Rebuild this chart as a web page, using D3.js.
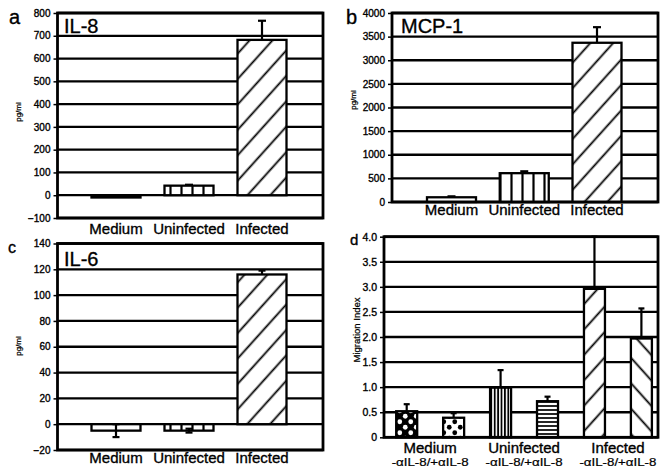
<!DOCTYPE html>
<html><head><meta charset="utf-8">
<script src="https://cdn.jsdelivr.net/npm/d3@7"></script>
<style>
body{margin:0;background:#fff}
svg{display:block}
text{font-family:"Liberation Sans",Arial,Helvetica,sans-serif;fill:#000;stroke:#000;stroke-width:0.35px}
</style>
</head><body>
<svg id="chart" width="670" height="471"></svg>
<script>
// ---------------- data ----------------
const categories = ["Medium", "Uninfected", "Infected"];

const il8Values = [-10, 42, 682];
const il8Errors = [0, 4, 84];
const il8Ticks = [-100, 0, 100, 200, 300, 400, 500, 600, 700, 800];

const mcp1Values = [100, 610, 3370];
const mcp1Errors = [20, 40, 330];
const mcp1Ticks = [0, 500, 1000, 1500, 2000, 2500, 3000, 3500, 4000];

const il6Values = [-5, -5, 116];
const il6Errors = [5, 1.5, 3];
const il6Ticks = [-20, 0, 20, 40, 60, 80, 100, 120, 140];

const migrationGroups = ["Medium", "Uninfected", "Infected"];
const migrationSubLabel = "-\u03b1IL-8/+\u03b1IL-8";
const migrationMinus = [0.52, 0.99, 2.96];
const migrationMinusErr = [0.14, 0.35, 1.04];
const migrationPlus = [0.39, 0.72, 1.97];
const migrationPlusErr = [0.09, 0.09, 0.6];
const migrationTicks = [0, 0.5, 1.0, 1.5, 2.0, 2.5, 3.0, 3.5, 4.0];

// ---------------- setup ----------------
const svg = d3.select("#chart");
const defs = svg.append("defs");

function linePattern(id, spacing, angle, sw) {
  const p = defs.append("pattern").attr("id", id)
    .attr("patternUnits", "userSpaceOnUse")
    .attr("width", spacing).attr("height", 10)
    .attr("patternTransform", `rotate(${angle})`);
  p.append("rect").attr("width", spacing).attr("height", 10).attr("fill", "#fff");
  p.append("line").attr("x1", spacing / 2).attr("x2", spacing / 2)
    .attr("y1", -1).attr("y2", 11).attr("stroke", "#000").attr("stroke-width", sw);
}
linePattern("vlines", 11, 0, 2.2);
linePattern("diagR", 17, 42, 1.8);
linePattern("diagL", 17, -42, 1.8);
linePattern("vdense", 3.4, 0, 1.8);
linePattern("hlines", 4, 90, 1.7);

function dotPattern(id, bg, fg) {
  const p = defs.append("pattern").attr("id", id)
    .attr("patternUnits", "userSpaceOnUse").attr("width", 11).attr("height", 11)
    .attr("x", 1).attr("y", 1);
  p.append("rect").attr("width", 11).attr("height", 11).attr("fill", bg);
  [[2.75, 2.75], [8.25, 8.25]].forEach(([cx, cy]) =>
    p.append("circle").attr("cx", cx).attr("cy", cy).attr("r", 2.4).attr("fill", fg));
}
dotPattern("dotsBlack", "#000", "#fff");
dotPattern("dotsWhite", "#fff", "#000");

function drawPanel(cfg) {
  const g = svg.append("g");
  const y = d3.scaleLinear().domain(cfg.domain).range([cfg.bottom, cfg.top]);
  const x = d3.scalePoint().domain(cfg.barKeys).range(cfg.centerRange);

  // gridlines
  g.append("g").selectAll("line").data(cfg.ticks).join("line")
    .attr("x1", cfg.left).attr("x2", cfg.right)
    .attr("y1", d => y(d)).attr("y2", d => y(d))
    .attr("stroke", "#000").attr("stroke-width", 2.3);

  // axis
  const ax = g.append("g").attr("transform", `translate(${cfg.left},0)`)
    .call(d3.axisLeft(y).tickValues(cfg.ticks).tickSize(4).tickPadding(3)
      .tickFormat(cfg.fmt));
  ax.select(".domain").remove();
  ax.selectAll(".tick line").attr("stroke", "#000").attr("stroke-width", 1.5);
  ax.selectAll(".tick text")
    .style("font-family", '"Liberation Sans",Arial,sans-serif')
    .style("font-size", cfg.tickFont + "px")
    .style("stroke-width", "0.35px")
    .attr("fill", "#000");

  // bars
  const bars = cfg.barKeys.map((k, i) => ({ k, v: cfg.values[i], e: cfg.errors[i], fill: cfg.fills[i] }));
  g.append("g").selectAll("rect").data(bars).join("rect")
    .attr("x", d => x(d.k) - cfg.barW / 2).attr("width", cfg.barW)
    .attr("y", d => Math.min(y(d.v), y(0)))
    .attr("height", d => Math.abs(y(d.v) - y(0)))
    .attr("fill", d => d.fill).attr("stroke", "#000").attr("stroke-width", 2.3);

  // error bars
  const eg = g.append("g").attr("stroke", "#000").attr("stroke-width", 2.2);
  bars.filter(d => d.e > 0).forEach(d => {
    const cx = x(d.k);
    let y1, y2;
    if (d.v >= 0) { y1 = y(d.v); y2 = y(d.v + d.e); }
    else { y1 = y(d.v + d.e); y2 = y(d.v - d.e); }
    eg.append("line").attr("x1", cx).attr("x2", cx).attr("y1", y1).attr("y2", y2);
    eg.append("line").attr("x1", cx - cfg.capW / 2).attr("x2", cx + cfg.capW / 2)
      .attr("y1", y2).attr("y2", y2);
    if (d.v < 0) {
      eg.append("line").attr("x1", cx - cfg.capW / 2).attr("x2", cx + cfg.capW / 2)
        .attr("y1", y1).attr("y2", y1);
    }
  });

  // frame
  g.append("rect").attr("x", cfg.left).attr("y", cfg.top)
    .attr("width", cfg.right - cfg.left).attr("height", cfg.bottom - cfg.top)
    .attr("fill", "none").attr("stroke", "#000").attr("stroke-width", 2.8);

  // panel letter
  g.append("text").attr("x", cfg.letterX).attr("y", cfg.letterY)
    .style("font-size", cfg.letterFont + "px").text(cfg.letter);

  // title
  if (cfg.title) {
    g.append("text").attr("x", cfg.titleX).attr("y", cfg.titleY)
      .style("font-size", "20px").text(cfg.title);
  }

  // y label
  g.append("text")
    .attr("transform", `translate(${cfg.ylabX},${cfg.ylabY}) rotate(-90)`)
    .attr("text-anchor", "middle").style("font-size", cfg.ylabFont + "px")
    .style("stroke-width", "0.25px")
    .text(cfg.ylab);

  return { g, x, y };
}

const fmtInt = d3.format("d");

// panel a
const pa = drawPanel({
  left: 57.5, right: 323, top: 13, bottom: 218, domain: [-100, 800],
  ticks: il8Ticks, fmt: fmtInt, tickFont: 10,
  barKeys: categories, centerRange: [116, 262], barW: 49, capW: 8,
  values: il8Values, errors: il8Errors,
  fills: ["#fff", "url(#vlines)", "url(#diagR)"],
  letter: "a", letterX: 9, letterY: 24, letterFont: 20,
  title: "IL-8", titleX: 64, titleY: 33,
  ylab: "pg/ml", ylabX: 21, ylabY: 112, ylabFont: 8
});
pa.g.append("g").selectAll("text").data(categories).join("text")
  .attr("x", d => pa.x(d)).attr("y", 233.5).attr("text-anchor", "middle")
  .style("font-size", "15px").text(d => d);

// panel b
const pb = drawPanel({
  left: 392, right: 658, top: 13, bottom: 202, domain: [0, 4000],
  ticks: mcp1Ticks, fmt: fmtInt, tickFont: 10,
  barKeys: categories, centerRange: [451.5, 597], barW: 49, capW: 8,
  values: mcp1Values, errors: mcp1Errors,
  fills: ["#fff", "url(#vlines)", "url(#diagR)"],
  letter: "b", letterX: 346, letterY: 24, letterFont: 20,
  title: "MCP-1", titleX: 401, titleY: 33,
  ylab: "pg/ml", ylabX: 356, ylabY: 100, ylabFont: 8
});
pb.g.append("g").selectAll("text").data(categories).join("text")
  .attr("x", d => pb.x(d)).attr("y", 215).attr("text-anchor", "middle")
  .style("font-size", "15px").text(d => d);

// panel c
const pc = drawPanel({
  left: 57.5, right: 323, top: 243.5, bottom: 450, domain: [-20, 140],
  ticks: il6Ticks, fmt: fmtInt, tickFont: 10,
  barKeys: categories, centerRange: [116, 262], barW: 49, capW: 7,
  values: il6Values, errors: il6Errors,
  fills: ["#fff", "url(#vlines)", "url(#diagR)"],
  letter: "c", letterX: 8, letterY: 253, letterFont: 16,
  title: "IL-6", titleX: 64, titleY: 266,
  ylab: "pg/ml", ylabX: 21, ylabY: 346, ylabFont: 8
});
pc.g.append("g").selectAll("text").data(categories).join("text")
  .attr("x", d => pc.x(d)).attr("y", 463).attr("text-anchor", "middle")
  .style("font-size", "15px").text(d => d);

// panel d
const dKeys = [];
const dVals = [], dErrs = [];
migrationGroups.forEach((grp, i) => {
  dKeys.push(grp + "-", grp + "+");
  dVals.push(migrationMinus[i], migrationPlus[i]);
  dErrs.push(migrationMinusErr[i], migrationPlusErr[i]);
});
const pd = drawPanel({
  left: 384, right: 658, top: 236.7, bottom: 437.3, domain: [0, 4],
  ticks: migrationTicks, fmt: d => d === 0 ? "0" : d3.format(".1f")(d), tickFont: 10.5,
  barKeys: dKeys, centerRange: [406.7, 641.4], barW: 21, capW: 6,
  values: dVals, errors: dErrs,
  fills: ["url(#dotsBlack)", "url(#dotsWhite)", "url(#vdense)", "url(#hlines)", "url(#diagR)", "url(#diagL)"],
  letter: "d", letterX: 350, letterY: 245, letterFont: 15,
  title: null,
  ylab: "Migration Index", ylabX: 360, ylabY: 330, ylabFont: 9.5
});
const dl = pd.g.append("g");
migrationGroups.forEach((grp, i) => {
  const cx = (pd.x(grp + "-") + pd.x(grp + "+")) / 2;
  dl.append("text").attr("x", cx).attr("y", 452.5).attr("text-anchor", "middle")
    .style("font-size", "15px").text(grp);
  dl.append("text").attr("x", cx).attr("y", 466).attr("text-anchor", "middle")
    .style("font-size", "10px").style("stroke-width", "0.2px")
    .attr("textLength", 77).attr("lengthAdjust", "spacingAndGlyphs")
    .text(migrationSubLabel);
});
</script>
</body></html>
